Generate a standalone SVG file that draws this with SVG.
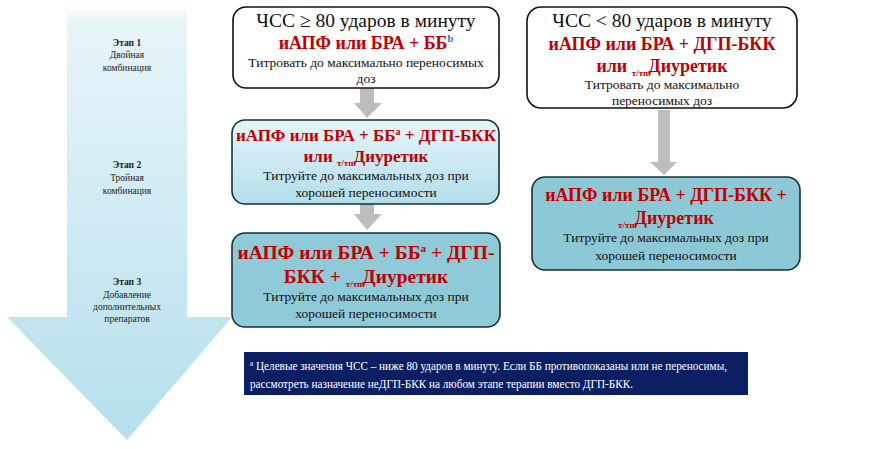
<svg xmlns="http://www.w3.org/2000/svg" width="891" height="449" viewBox="0 0 891 449" font-family="'Liberation Serif', 'DejaVu Serif', serif">
<defs>
<linearGradient id="bigArrow" x1="0" y1="0" x2="0" y2="1">
<stop offset="0" stop-color="#e8f5f9"/>
<stop offset="1" stop-color="#b4dfec"/>
</linearGradient>
<linearGradient id="lightBox" x1="0" y1="0" x2="0" y2="1">
<stop offset="0" stop-color="#e6f5fa"/>
<stop offset="1" stop-color="#b2deea"/>
</linearGradient>
<style>
text{font-family:'Liberation Serif','DejaVu Serif',serif;}
.stage{font-size:9.5px;fill:#222;text-anchor:middle;}
.stb{font-weight:bold;}
.head{font-size:19.5px;fill:#111;text-anchor:middle;}
.drug{font-weight:bold;fill:#c00000;text-anchor:middle;}
.note{font-size:13.5px;fill:#111;text-anchor:middle;}
.sub{font-size:9px;}
.box{stroke:#111;stroke-width:1.6;}
.tbox{stroke:#14303c;stroke-width:1.6;}
.garrow{fill:#bdbdbd;}
.foot{font-size:12.5px;fill:#fff;}
</style>
</defs>

<g id="stage-arrow">
<rect x="67" y="11" width="120" height="7" fill="#f3f8f9"/>
<path d="M67,18 H187 V317 H232 L127,440 L7,317 H67 Z" fill="url(#bigArrow)"/>
<g class="stage">
<text x="127" y="46" class="stage stb">Этап 1</text>
<text x="127" y="58" class="stage">Двойная</text>
<text x="127" y="71" class="stage">комбинация</text>
<text x="127" y="168" class="stage stb">Этап 2</text>
<text x="127" y="181" class="stage">Тройная</text>
<text x="127" y="194" class="stage">комбинация</text>
<text x="127" y="285" class="stage stb">Этап 3</text>
<text x="127" y="298" class="stage">Добавление</text>
<text x="127" y="310" class="stage">дополнительных</text>
<text x="127" y="322" class="stage">препаратов</text>
</g>
</g>

<g id="connectors">
<path class="garrow" d="M360,88 H374 V103 H382 L367,118 L354,103 H360 Z"/>
<path class="garrow" d="M360,204 H374 V214 H382 L367,230 L354,214 H360 Z"/>
<path class="garrow" d="M658,110 H670 V162 H677 L664,175 L650,162 H658 Z"/>
</g>

<g id="box-hr-high">
<rect x="233" y="7" width="266" height="81" rx="13" fill="#fff" class="box"/>
<text x="366" y="27" class="head">ЧСС ≥ 80 ударов в минуту</text>
<text x="366" y="49" class="drug" font-size="18">иАПФ или БРА + ББ<tspan dy="-7" font-size="10.5" fill="#2e75b6">b</tspan></text>
<text x="366" y="67" class="note" font-size="14">Титровать до максимально переносимых</text>
<text x="366" y="83" class="note" font-size="11">доз</text>
</g>

<g id="box-hr-low">
<rect x="527" y="7" width="270" height="101" rx="14" fill="#fff" class="box"/>
<text x="662" y="27" class="head" font-size="18.5">ЧСС &lt; 80 ударов в минуту</text>
<text x="662" y="50" class="drug" font-size="18">иАПФ или БРА + ДГП-БКК</text>
<text x="662" y="72" class="drug" font-size="18">или <tspan class="sub" dy="4">т/тп</tspan><tspan dy="-4">Диуретик</tspan></text>
<text x="662" y="89" class="note" font-size="14">Титровать до максимально</text>
<text x="662" y="105" class="note" font-size="14">переносимых доз</text>
</g>

<g id="box-triple">
<rect x="232" y="120" width="267" height="84" rx="13" fill="url(#lightBox)" class="tbox"/>
<text x="366" y="141" class="drug" font-size="17">иАПФ или БРА + ББ<tspan dy="-6" font-size="10">а</tspan><tspan dy="6"> + ДГП-БКК</tspan></text>
<text x="366" y="162" class="drug" font-size="17">или <tspan class="sub" dy="4">т/тп</tspan><tspan dy="-4">Диуретик</tspan></text>
<text x="366" y="180" class="note">Титруйте до максимальных доз при</text>
<text x="366" y="197" class="note">хорошей переносимости</text>
</g>

<g id="box-add">
<rect x="232" y="233" width="268" height="94" rx="13" fill="#8ecad8" class="tbox"/>
<text x="366" y="259" class="drug" font-size="19.5">иАПФ или БРА + ББ<tspan dy="-7" font-size="11">а</tspan><tspan dy="7"> + ДГП-</tspan></text>
<text x="366" y="283" class="drug" font-size="19.5">БКК + <tspan class="sub" dy="4">т/тп</tspan><tspan dy="-4">Диуретик</tspan></text>
<text x="366" y="301" class="note">Титруйте до максимальных доз при</text>
<text x="366" y="318" class="note">хорошей переносимости</text>
</g>

<g id="box-triple-right">
<rect x="532" y="177" width="268" height="93" rx="13" fill="#8cc8d6" class="tbox"/>
<text x="666" y="201" class="drug" font-size="18">иАПФ или БРА + ДГП-БКК +</text>
<text x="666" y="224" class="drug" font-size="18"><tspan class="sub" dy="4">т/тп</tspan><tspan dy="-4">Диуретик</tspan></text>
<text x="666" y="242" class="note">Титруйте до максимальных доз при</text>
<text x="666" y="260" class="note">хорошей переносимости</text>
</g>

<g id="footnote">
<rect x="244" y="352" width="504" height="43" fill="#0d1f63"/>
<text x="250" y="370" class="foot" textLength="477" lengthAdjust="spacingAndGlyphs"><tspan font-size="8" dy="-4">а</tspan><tspan dy="4"> Целевые значения ЧСС – ниже 80 ударов в минуту. Если ББ противопоказаны или не переносимы,</tspan></text>
<text x="250" y="388" class="foot" textLength="383" lengthAdjust="spacingAndGlyphs">рассмотреть назначение неДГП-БКК на любом этапе терапии вместо ДГП-БКК.</text>
</g>
</svg>
